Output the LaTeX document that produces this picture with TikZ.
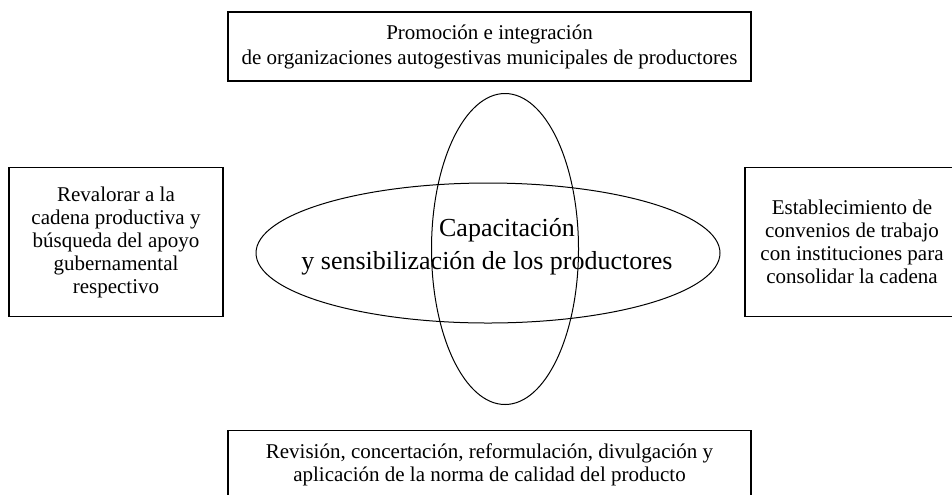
\documentclass[tikz,border=0pt]{standalone}
\usepackage{fontspec}
\setmainfont{Liberation Serif}
\usepackage{tikz}
\usetikzlibrary{shapes.geometric}

\begin{document}
\begin{tikzpicture}[x=0.5pt,y=-0.5pt]
\tikzstyle{caja}=[rectangle,draw,line width=0.6pt,align=center,inner sep=0pt,font=\fontsize{10.5}{11.5}\selectfont]
\tikzstyle{ovalo}=[ellipse,draw,line width=0.5pt,inner sep=0pt]
\useasboundingbox (0,0) rectangle (952,494);
\node [ovalo,minimum width=232pt,minimum height=70pt] (horiz) at (488,253) {};
\node [ovalo,minimum width=73.5pt,minimum height=155.5pt] (vert) at (505,249) {};
\node [align=center,font=\fontsize{13}{16.5}\selectfont] (capacitacion) at (487,247) {\hspace*{20pt}Capacitación\\y sensibilización de los productores};
\node [caja,minimum width=261.5pt,minimum height=34.5pt,font=\fontsize{10.5}{12.5}\selectfont] (promocion) at (489.5,46.5) {Promoción e integración\\de organizaciones autogestivas municipales de productores};
\node [caja,minimum width=107pt,minimum height=74.5pt] (revalorar) at (116,242) {Revalorar a la\\cadena productiva y\\búsqueda del apoyo\\gubernamental\\respectivo};
\node [caja,minimum width=107pt,minimum height=74.5pt] (convenios) at (852,242) {Establecimiento de\\convenios de trabajo\\con instituciones para\\consolidar la cadena};
\node [caja,minimum width=261.5pt,minimum height=54.5pt,anchor=north] (norma) at (489.5,430) {Revisión, concertación, reformulación, divulgación y\\aplicación de la norma de calidad del producto\\ \mbox{}\\ \mbox{}};
\end{tikzpicture}
\end{document}
